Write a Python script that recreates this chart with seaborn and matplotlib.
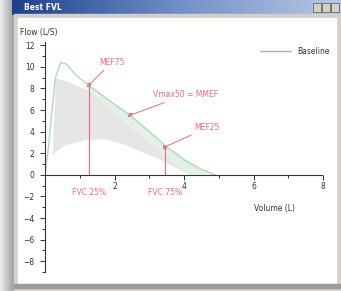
import matplotlib
matplotlib.use("Agg")
import matplotlib.pyplot as plt
import seaborn as sns
import numpy as np
from matplotlib.patches import Rectangle
from matplotlib.lines import Line2D
from matplotlib.ticker import MultipleLocator

# measured flow-volume curve (L, L/s)
curve_vol = [0.0, 0.1, 0.2, 0.3, 0.45, 0.6, 0.9, 1.25, 1.8, 2.45, 3.0, 3.5, 4.0, 4.5, 4.9]
curve_flow = [0.0, 2.5, 6.0, 9.0, 10.4, 10.3, 9.2, 8.3, 7.0, 5.5, 4.0, 2.6, 1.4, 0.5, 0.0]

# predicted (baseline) area
pred_vol = [0.2, 0.3, 0.6, 1.2, 1.8, 2.3, 2.9, 3.4, 3.8, 4.15]
pred_upper = [1.8, 9.0, 8.7, 7.9, 6.3, 4.9, 3.3, 2.0, 1.0, 0.0]
pred_lower = [1.8, 2.2, 2.8, 3.3, 3.3, 2.8, 2.0, 1.3, 0.6, 0.0]

# key points
mef_names = ["MEF75", "Vmax50 = MMEF", "MEF25"]
mef_vol = [1.26, 2.43, 3.46]
mef_flow = [8.3, 5.5, 2.6]
mef_text_pos = [(1.55, 10.4), (3.1, 7.4), (4.3, 4.35)]
fvc_labels = ["FVC 25%", "FVC 75%"]
fvc_vol = [1.26, 3.46]
fvc_top = [8.3, 2.6]

red = "#ee6a80"
sns.set_style("white")
plt.rcParams["font.family"] = ["DejaVu Sans"]

fig = plt.figure(figsize=(3.41, 2.91), dpi=100)

# window chrome drawn in pixel coords
bg = fig.add_axes([0, 0, 1, 1])
bg.set_xlim(0, 341)
bg.set_ylim(291, 0)
bg.axis("off")
shadow = np.linspace(0.93, 0.62, 50).reshape(1, -1)
bg.imshow(shadow, extent=(0, 14, 291, 0), cmap="gray", vmin=0, vmax=1, aspect="auto")
bg.add_patch(Rectangle((14, 14), 327, 277, color="#d4d0c8"))
bg.add_patch(Rectangle((18, 18), 318, 266, color="white"))
bg.add_patch(Rectangle((14, 284), 327, 4, color="#9c9c9c"))
title = np.linspace(0, 1, 200).reshape(1, -1)
bg.imshow(title, extent=(12, 341, 15, 0), cmap=matplotlib.colors.LinearSegmentedColormap.from_list(
    "tb", ["#1e3f8c", "#6f8fc8", "#b8c8e4"]), aspect="auto")
bg.text(24, 8, "Best FVL", color="white", fontsize=5.5, fontweight="bold", va="center")
for bx in [313, 322, 331]:
    bg.add_patch(Rectangle((bx, 3), 8, 9, facecolor="#d4d0c8", edgecolor="#555555", lw=0.5))
bg.text(20, 33, "Flow (L/S)", fontsize=5.5, color="#333333", va="center")
bg.set_zorder(0)

ax = fig.add_axes([45 / 341, 19 / 291, 280 / 341, 230 / 291])
ax.patch.set_alpha(0)

# predicted area
ax.fill_between(pred_vol, pred_lower, pred_upper, color="#e6e6e6", lw=0)
# band between measured curve and baseline upper edge
band_x = curve_vol[7:] + pred_vol[3:][::-1]
band_y = curve_flow[7:] + pred_upper[3:][::-1]
ax.fill(band_x, band_y, color="#e2f0e6", lw=0)

sns.lineplot(x=curve_vol, y=curve_flow, ax=ax, color="#b0d9be", lw=1.0, sort=False)

for v, f in zip(fvc_vol, fvc_top):
    ax.plot([v, v], [f, 0], color=red, lw=0.8)
sns.scatterplot(x=mef_vol, y=mef_flow, ax=ax, color=red, s=6, marker="s", linewidth=0)
for name, v, f, (tx, ty) in zip(mef_names, mef_vol, mef_flow, mef_text_pos):
    ax.annotate(name, xy=(v, f), xytext=(tx, ty), color=red, fontsize=5.5, va="center",
                arrowprops=dict(arrowstyle="-", color=red, lw=0.7, shrinkA=0, shrinkB=0))
for name, v in zip(fvc_labels, fvc_vol):
    ax.text(v, -1.6, name, color=red, fontsize=5.5, ha="center", va="center")

ax.text(6.6, -3.15, "Volume (L)", fontsize=5.5, color="#333333", ha="center", va="center")

ax.set_xlim(0, 8.05)
ax.set_ylim(-9, 12.3)
ax.spines["top"].set_visible(False)
ax.spines["right"].set_visible(False)
ax.spines["bottom"].set_position(("data", 0))
ax.spines["bottom"].set_bounds(0, 7.95)
for s in ["left", "bottom"]:
    ax.spines[s].set_color("#333333")
    ax.spines[s].set_linewidth(0.8)
ax.set_xticks([2, 4, 6, 8])
ax.xaxis.set_minor_locator(MultipleLocator(1))
ax.set_yticks(list(range(-8, 13, 2)))
ax.yaxis.set_minor_locator(MultipleLocator(1))
ax.tick_params(which="both", direction="out", color="#333333", width=0.7,
               labelsize=5.5, labelcolor="#333333")
ax.tick_params(which="major", length=3.5)
ax.tick_params(which="minor", length=2)
ax.tick_params(axis="y", which="both", left=True, pad=4)
ax.tick_params(axis="x", which="both", bottom=True, pad=2)

handle = Line2D([], [], color="#b0b0b0", lw=1)
ax.legend([handle], ["Baseline"], loc="upper right", bbox_to_anchor=(1.04, 1.01), frameon=False,
          fontsize=5.5, handlelength=4, labelcolor="#333333")

fig.savefig("out.png", dpi=100)
